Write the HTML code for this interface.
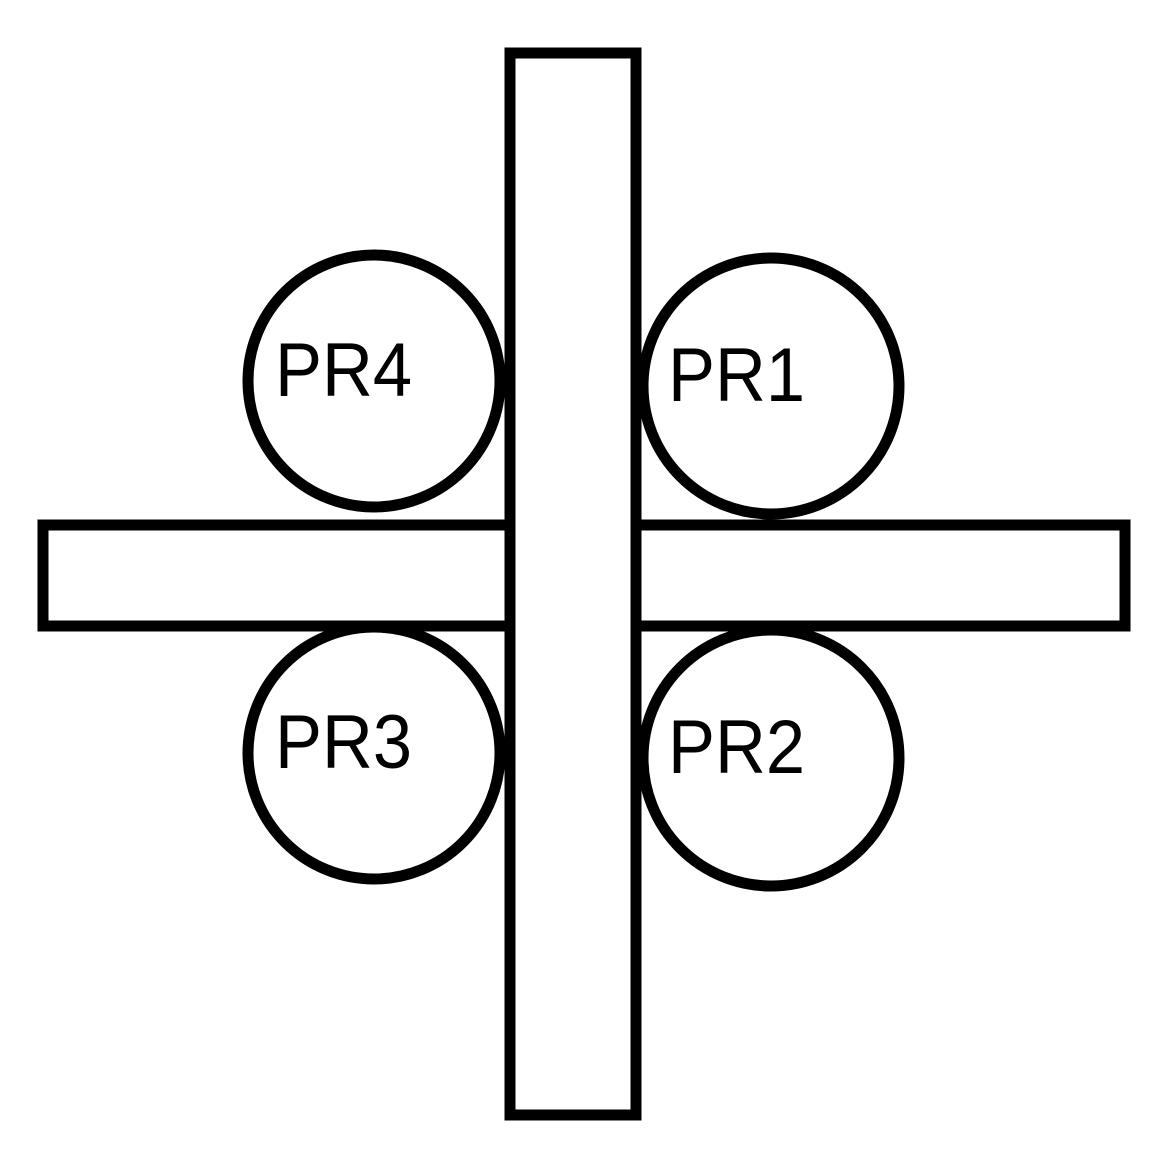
<!DOCTYPE html>
<html><head><meta charset="utf-8"><style>
html,body{margin:0;padding:0;background:#fff;}
svg{display:block;}
</style></head><body>
<svg width="1174" height="1160" viewBox="0 0 1174 1160" xmlns="http://www.w3.org/2000/svg">
<g fill="#fff" stroke="#000" stroke-width="11">
<circle cx="374" cy="381" r="126"/>
<circle cx="771" cy="386" r="128"/>
<circle cx="374" cy="753" r="126"/>
<circle cx="771" cy="758" r="128"/>
<rect x="43" y="525" width="1082" height="101"/>
<rect x="510" y="53" width="126" height="1062"/>
</g>
<g font-family="Liberation Sans, sans-serif" font-size="76" fill="#000">
<text x="275" y="396" textLength="137" lengthAdjust="spacingAndGlyphs">PR4</text>
<text x="668" y="401" textLength="137" lengthAdjust="spacingAndGlyphs">PR1</text>
<text x="275" y="768" textLength="137" lengthAdjust="spacingAndGlyphs">PR3</text>
<text x="668" y="773" textLength="137" lengthAdjust="spacingAndGlyphs">PR2</text>
</g>
</svg>
</body></html>
